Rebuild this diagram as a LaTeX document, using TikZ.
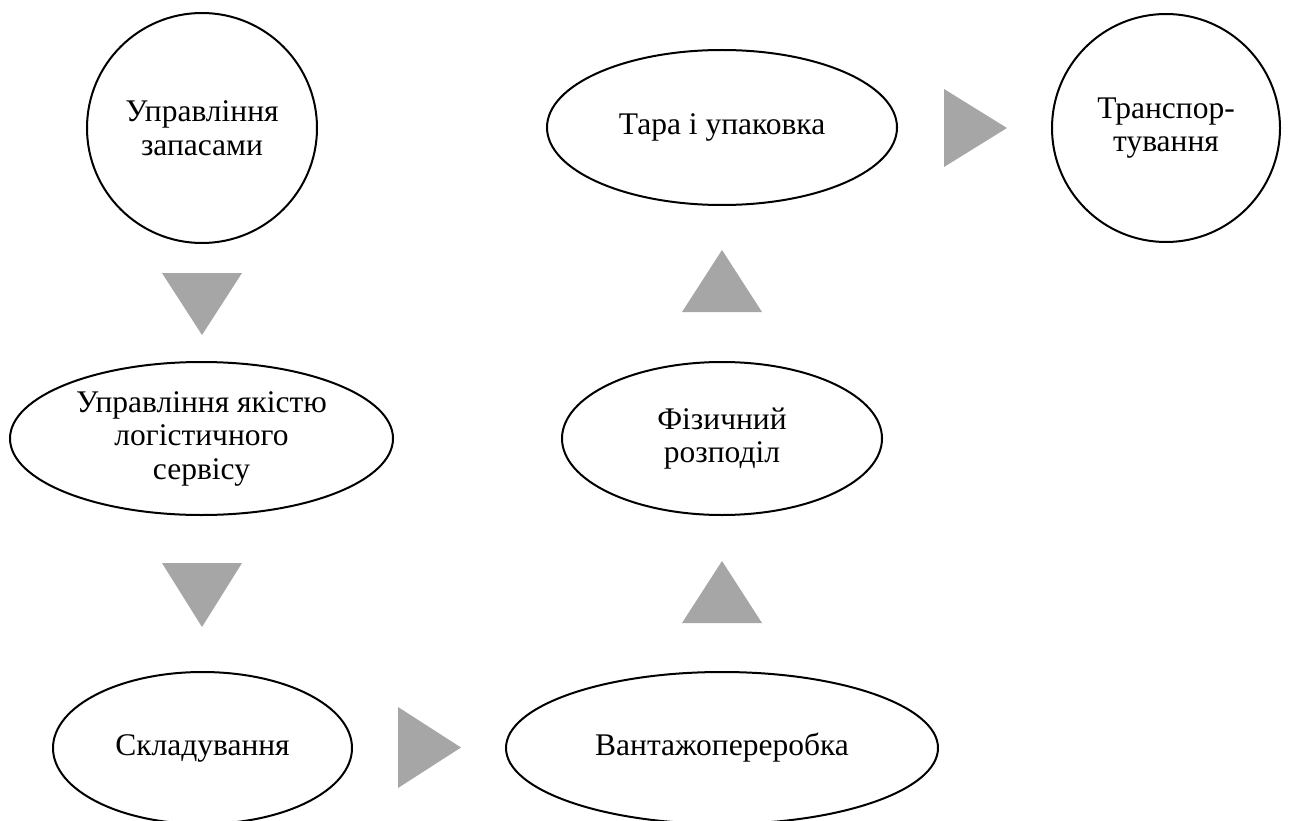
\documentclass[tikz,border=0pt]{standalone}
\usepackage{fontspec}
\setmainfont{Liberation Serif}
\usetikzlibrary{shapes.geometric}
\definecolor{arrowgray}{HTML}{A6A6A6}
\begin{document}
\begin{tikzpicture}[x=1pt,y=-1pt,
  every node/.style={inner sep=0pt, align=center, font=\fontsize{31.5}{33.5}\selectfont},
  ovalbox/.style={ellipse, draw=black, line width=2pt},
  roundbox/.style={circle, draw=black, line width=2pt},
  arrowfill/.style={fill=arrowgray, draw=none}]
\useasboundingbox (0,0) rectangle (1289,821);
% nodes
\node[roundbox, minimum size=230pt] (zap) at (202,128) {Управління\\запасами};
\node[ovalbox, minimum width=383pt, minimum height=153pt] (yak) at (201.5,438.5) {Управління якістю\\логістичного\\сервісу};
\node[ovalbox, minimum width=299pt, minimum height=152pt] (skl) at (202.5,748) {Складування};
\node[ovalbox, minimum width=432pt, minimum height=152pt] (van) at (722,748) {Вантажопереробка};
\node[ovalbox, minimum width=320pt, minimum height=153pt] (fiz) at (722,438.5) {Фізичний\\розподіл};
\node[ovalbox, minimum width=350pt, minimum height=155pt] (tar) at (722,127.5) {Тара і упаковка};
\node[roundbox, minimum size=228pt] (tra) at (1166,128) {Транспор-\\тування};
% triangles
\fill[arrowfill] (162,273) -- (242,273) -- (202,335) -- cycle;
\fill[arrowfill] (162,563) -- (242,563) -- (202,627) -- cycle;
\fill[arrowfill] (398,707) -- (398,788) -- (461,747.5) -- cycle;
\fill[arrowfill] (682,623) -- (762,623) -- (722,561) -- cycle;
\fill[arrowfill] (682,312) -- (762,312) -- (722,250) -- cycle;
\fill[arrowfill] (944,89) -- (944,167) -- (1007,128) -- cycle;
\end{tikzpicture}
\end{document}
